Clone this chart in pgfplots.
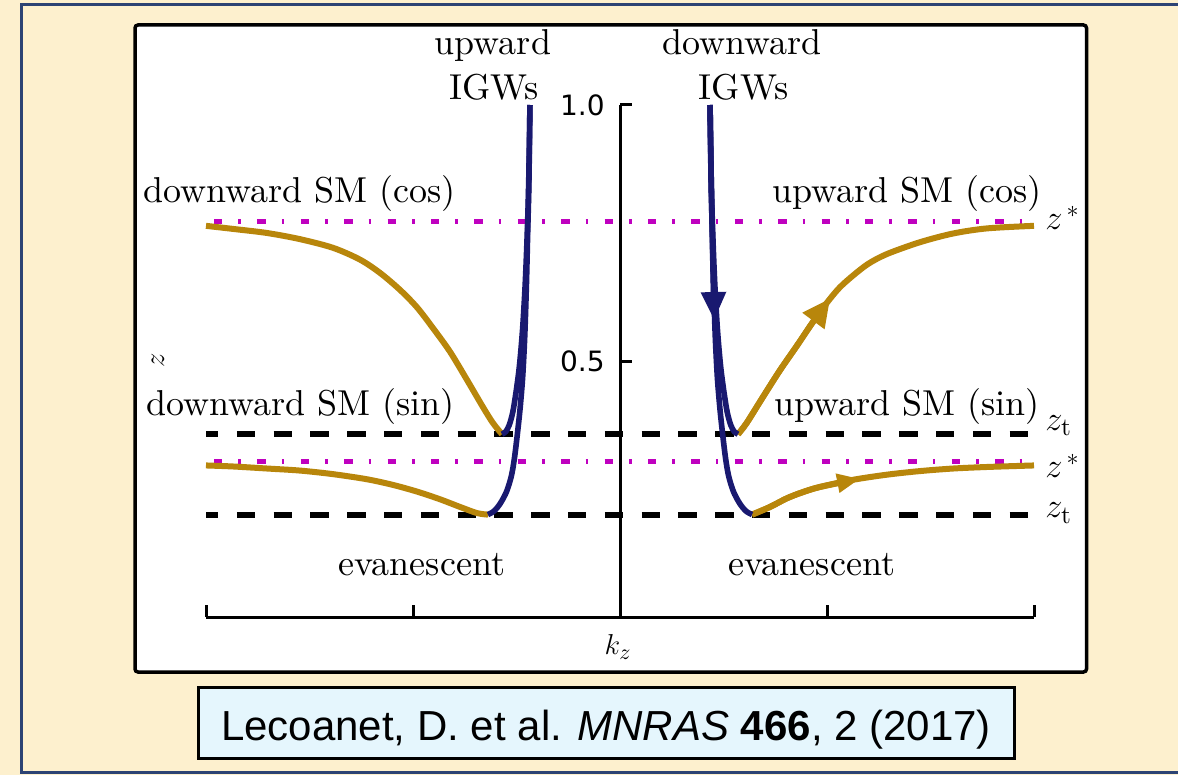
\documentclass[border=0pt]{standalone}
\usepackage{fontspec}
\usepackage{pgfplots}
\pgfplotsset{compat=1.18}
\usetikzlibrary{arrows.meta}
\setmainfont{lmroman10-regular.otf}[ItalicFont=lmroman10-italic.otf, BoldFont=lmroman10-bold.otf]
\newfontfamily\dejavu{DejaVu Sans}
\newfontfamily\liberation{Liberation Sans}
\definecolor{cream}{HTML}{FDF0CE}
\definecolor{slideframe}{HTML}{2C4374}
\definecolor{capfill}{HTML}{E5F6FD}
\definecolor{smgold}{HTML}{B8860B}
\definecolor{igwblue}{HTML}{191970}
\definecolor{zmag}{HTML}{BF00BF}
\tikzset{lbl/.style={inner sep=0pt, font=\fontsize{18}{21.6}\selectfont}}

\begin{document}
\begin{tikzpicture}
\useasboundingbox (0,0) rectangle (589pt,-387.5pt);
% slide background, plot panel and reference box (1 unit = 0.5pt, y downwards)
\begin{scope}[x=0.5pt,y=-0.5pt]
  \fill[cream] (0,0) rectangle (1178,775);
  \draw[slideframe, line width=1.5pt] (21.5,4.5) rectangle (1210,772);
  \draw[black, fill=white, line width=1.75pt, rounded corners=1.5pt] (135,25) rectangle (1086.5,672);
  \draw[black, fill=capfill, line width=1.5pt] (198.5,687.5) rectangle (1014,758);
  \node[anchor=base, inner sep=0pt, font=\liberation\fontsize{21}{25}\selectfont]
    at (606,740) {Lecoanet, D. et al. \textit{MNRAS} \textbf{466}, 2 (2017)};
\end{scope}

\begin{axis}[
  at={(103pt,-308.5pt)}, anchor=south west,
  scale only axis, width=414pt, height=256pt,
  xmin=-2, xmax=2, ymin=0, ymax=1,
  axis lines=middle,
  axis line style={-, line width=1.5pt, black},
  axis on top,
  clip=false,
  xtick={-2,-1,1,2}, xticklabels={},
  ytick={0.5,1}, yticklabels={0.5,1.0},
  tick align=inside, major tick length=6pt,
  tick style={line width=1.5pt, black},
  yticklabel style={font=\dejavu\fontsize{14}{14}\selectfont, anchor=east, inner sep=0pt, xshift=-7.5pt},
]
% turning heights z_t
\addplot[black, line width=3pt, dash pattern=on 9.2pt off 9.2pt, dash phase=3pt]
  coordinates {(-2,0.357) (2,0.357)};
\addplot[black, line width=3pt, dash pattern=on 9.2pt off 9.2pt, dash phase=3pt]
  coordinates {(-2,0.200) (2,0.200)};
% heights z^*
\addplot[zmag, line width=2.5pt, dash pattern=on 4.2pt off 8pt on 1.3pt off 8.2pt, dash phase=17.7pt]
  coordinates {(-2,0.772) (2,0.772)};
\addplot[zmag, line width=2.5pt, dash pattern=on 4.2pt off 8pt on 1.3pt off 8.2pt, dash phase=17.7pt]
  coordinates {(-2,0.303) (2,0.303)};

% standing modes, downward (left)
\addplot[smgold, line width=3pt, smooth] coordinates {
  (-2.0,0.764) (-1.870,0.758) (-1.705,0.750) (-1.546,0.738) (-1.386,0.721)
  (-1.256,0.698) (-1.159,0.672) (-1.063,0.639) (-0.981,0.605) (-0.903,0.564)
  (-0.821,0.518) (-0.739,0.463) (-0.662,0.410) (-0.614,0.379) (-0.570,0.357)};
\addplot[smgold, line width=3pt, smooth] coordinates {
  (-2.0,0.296) (-1.870,0.294) (-1.705,0.290) (-1.546,0.286) (-1.386,0.279)
  (-1.222,0.269) (-1.097,0.258) (-0.981,0.245) (-0.870,0.230) (-0.773,0.215)
  (-0.691,0.203) (-0.638,0.200)};
% standing modes, upward (right)
\addplot[smgold, line width=3pt, smooth] coordinates {
  (0.570,0.357) (0.612,0.379) (0.691,0.430) (0.773,0.482) (0.855,0.530)
  (0.930,0.575) (1.000,0.614) (1.060,0.643) (1.126,0.667) (1.200,0.690)
  (1.290,0.709) (1.449,0.732) (1.609,0.749) (1.773,0.759) (2.0,0.764)};
\addplot[smgold, line width=3pt, smooth, -{Triangle[length=14pt,width=13pt]}] coordinates {
  (0.570,0.357) (0.612,0.379) (0.691,0.430) (0.773,0.482) (0.855,0.530)
  (0.930,0.575) (1.015,0.622)};
\addplot[smgold, line width=3pt, smooth] coordinates {
  (0.638,0.200) (0.725,0.215) (0.807,0.232) (0.884,0.244) (0.966,0.254)
  (1.126,0.268) (1.290,0.278) (1.449,0.285) (1.609,0.290) (1.773,0.293) (2.0,0.296)};
\addplot[smgold, line width=3pt, smooth, -{Triangle[length=11.5pt,width=9pt]}] coordinates {
  (0.638,0.200) (0.725,0.215) (0.807,0.232) (0.884,0.244) (0.966,0.254) (1.160,0.270)};

% internal gravity waves, upward (left)
\addplot[igwblue, line width=2.8pt, smooth] coordinates {
  (-0.435,1.0) (-0.441,0.85) (-0.448,0.75) (-0.458,0.65) (-0.471,0.56)
  (-0.486,0.49) (-0.502,0.44) (-0.518,0.40) (-0.535,0.375) (-0.552,0.362) (-0.570,0.357)};
\addplot[igwblue, line width=2.8pt, smooth] coordinates {
  (-0.435,1.0) (-0.440,0.85) (-0.446,0.75) (-0.452,0.65) (-0.460,0.55)
  (-0.470,0.47) (-0.482,0.41) (-0.495,0.36) (-0.510,0.31) (-0.525,0.275)
  (-0.548,0.245) (-0.578,0.222) (-0.608,0.207) (-0.638,0.200)};
% internal gravity waves, downward (right)
\addplot[igwblue, line width=2.8pt, smooth] coordinates {
  (0.435,1.0) (0.441,0.85) (0.448,0.75) (0.458,0.65) (0.471,0.56)
  (0.486,0.49) (0.502,0.44) (0.518,0.40) (0.535,0.375) (0.552,0.362) (0.570,0.357)};
\addplot[igwblue, line width=2.8pt, smooth] coordinates {
  (0.435,1.0) (0.440,0.85) (0.446,0.75) (0.452,0.65) (0.460,0.55)
  (0.470,0.47) (0.482,0.41) (0.495,0.36) (0.510,0.31) (0.525,0.275)
  (0.548,0.245) (0.578,0.222) (0.608,0.207) (0.638,0.200)};
\addplot[igwblue, line width=2.8pt, smooth, -{Triangle[length=14pt,width=12pt]}] coordinates {
  (0.435,1.0) (0.441,0.85) (0.447,0.72) (0.455,0.58)};

% annotations
\node[lbl, anchor=base] at (axis cs:-0.6135,1.0977) {upward};
\node[lbl, anchor=base] at (axis cs:-0.6087,1.0117) {IGWs};
\node[lbl, anchor=base] at (axis cs:0.5894,1.0977) {downward};
\node[lbl, anchor=base] at (axis cs:0.5966,1.0117) {IGWs};
\node[lbl, anchor=base west] at (axis cs:-2.3043,0.8105) {downward SM (cos)};
\node[lbl, anchor=base east] at (axis cs:2.0386,0.8105) {upward SM (cos)};
\node[lbl, anchor=base west] at (axis cs:-2.2899,0.3945) {downward SM (sin)};
\node[lbl, anchor=base east] at (axis cs:2.0290,0.3945) {upward SM (sin)};
\node[lbl, anchor=base] at (axis cs:-0.9565,0.0820) {evanescent};
\node[lbl, anchor=base] at (axis cs:0.9275,0.0820) {evanescent};
\node[lbl, anchor=base west] at (axis cs:2.0531,0.7559) {$z^{\,*}$};
\node[lbl, anchor=base west] at (axis cs:2.0531,0.3652) {$z_{\mathrm{t}}$};
\node[lbl, anchor=base west] at (axis cs:2.0531,0.2715) {$z^{\,*}$};
\node[lbl, anchor=base west] at (axis cs:2.0531,0.1934) {$z_{\mathrm{t}}$};
\node[inner sep=0pt, anchor=base, font=\fontsize{15}{18}\selectfont] at (axis cs:-0.0097,-0.0742) {$k_z$};
\node[inner sep=0pt, rotate=90, font=\fontsize{15}{18}\selectfont] at (axis cs:-2.2319,0.502) {$z$};
\end{axis}
\end{tikzpicture}
\end{document}
